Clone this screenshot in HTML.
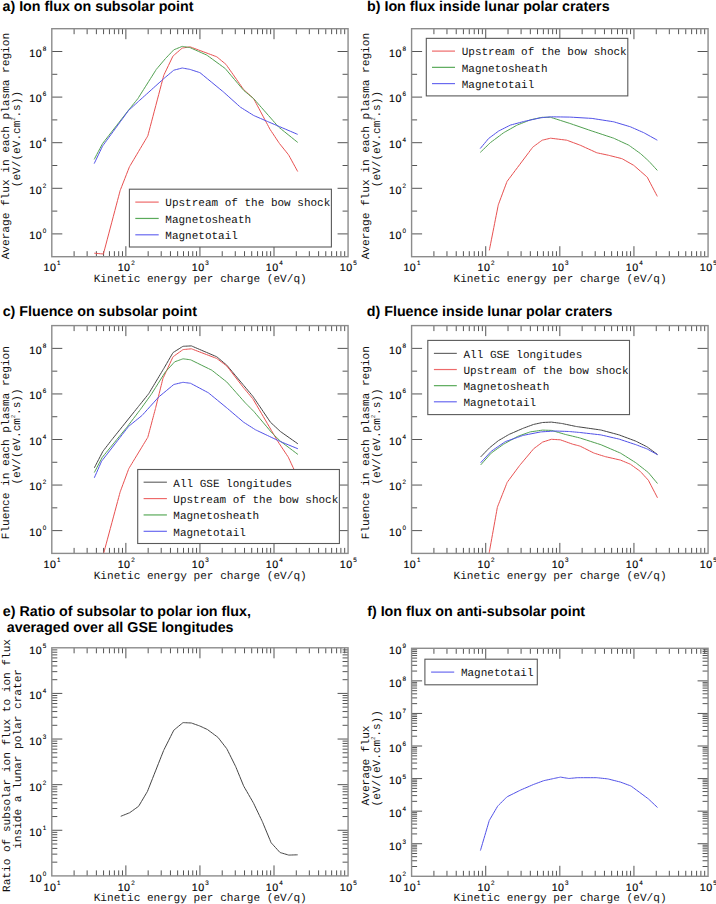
<!DOCTYPE html><html><head><meta charset="utf-8"><style>html,body{margin:0;padding:0;background:#fff}svg{display:block;text-rendering:geometricPrecision}.t{font:bold 14.28px "Liberation Sans",sans-serif;fill:#000}.tl{font:10.7px "Liberation Sans",sans-serif;fill:#000;stroke:#000;stroke-width:0.15px;letter-spacing:0.5px}.sup{font-size:6.3px;letter-spacing:0;stroke-width:0.1px}.m{font:11.1px "Liberation Mono",monospace;fill:#111}.lg{font:11px "Liberation Mono",monospace;fill:#111}.ms{font:5.5px "Liberation Sans",sans-serif;fill:#333}</style></head><body>
<svg width="716" height="904" viewBox="0 0 716 904">
<rect width="716" height="904" fill="#fff"/>
<text class="t" x="2.5" y="10.8">a) Ion flux on subsolar point</text>
<text class="t" x="367" y="10.8">b) Ion flux inside lunar polar craters</text>
<text class="t" x="2.7" y="316.4">c) Fluence on subsolar point</text>
<text class="t" x="366.8" y="316.4">d) Fluence inside lunar polar craters</text>
<text class="t" x="2.8" y="616.0">e) Ratio of subsolar to polar ion flux,</text>
<text class="t" x="2.8" y="631.8" xml:space="preserve"> averaged over all GSE longitudes</text>
<text class="t" x="367.2" y="615.5">f) Ion flux on anti-subsolar point</text>
<path d="M74.10 256.70v-5.5M74.10 28.70v5.5M87.14 256.70v-5.5M87.14 28.70v5.5M96.39 256.70v-5.5M96.39 28.70v5.5M103.57 256.70v-5.5M103.57 28.70v5.5M109.44 256.70v-5.5M109.44 28.70v5.5M114.39 256.70v-5.5M114.39 28.70v5.5M118.69 256.70v-5.5M118.69 28.70v5.5M122.48 256.70v-5.5M122.48 28.70v5.5M125.87 256.70v-10.5M125.87 28.70v10.5M148.16 256.70v-5.5M148.16 28.70v5.5M161.21 256.70v-5.5M161.21 28.70v5.5M170.46 256.70v-5.5M170.46 28.70v5.5M177.64 256.70v-5.5M177.64 28.70v5.5M183.50 256.70v-5.5M183.50 28.70v5.5M188.46 256.70v-5.5M188.46 28.70v5.5M192.76 256.70v-5.5M192.76 28.70v5.5M196.55 256.70v-5.5M196.55 28.70v5.5M199.94 256.70v-10.5M199.94 28.70v10.5M222.23 256.70v-5.5M222.23 28.70v5.5M235.27 256.70v-5.5M235.27 28.70v5.5M244.53 256.70v-5.5M244.53 28.70v5.5M251.71 256.70v-5.5M251.71 28.70v5.5M257.57 256.70v-5.5M257.57 28.70v5.5M262.53 256.70v-5.5M262.53 28.70v5.5M266.82 256.70v-5.5M266.82 28.70v5.5M270.61 256.70v-5.5M270.61 28.70v5.5M274.00 256.70v-10.5M274.00 28.70v10.5M296.30 256.70v-5.5M296.30 28.70v5.5M309.34 256.70v-5.5M309.34 28.70v5.5M318.60 256.70v-5.5M318.60 28.70v5.5M325.77 256.70v-5.5M325.77 28.70v5.5M331.64 256.70v-5.5M331.64 28.70v5.5M336.60 256.70v-5.5M336.60 28.70v5.5M340.89 256.70v-5.5M340.89 28.70v5.5M344.68 256.70v-5.5M344.68 28.70v5.5M51.80 233.90h10.5M348.07 233.90h-10.5M51.80 211.10h5.5M348.07 211.10h-5.5M51.80 188.30h10.5M348.07 188.30h-10.5M51.80 165.50h5.5M348.07 165.50h-5.5M51.80 142.70h10.5M348.07 142.70h-10.5M51.80 119.90h5.5M348.07 119.90h-5.5M51.80 97.10h10.5M348.07 97.10h-10.5M51.80 74.30h5.5M348.07 74.30h-5.5M51.80 51.50h10.5M348.07 51.50h-10.5" stroke="#555555" stroke-width="1" fill="none"/>
<path d="M433.91 256.70v-5.5M433.91 28.70v5.5M446.96 256.70v-5.5M446.96 28.70v5.5M456.22 256.70v-5.5M456.22 28.70v5.5M463.41 256.70v-5.5M463.41 28.70v5.5M469.27 256.70v-5.5M469.27 28.70v5.5M474.24 256.70v-5.5M474.24 28.70v5.5M478.53 256.70v-5.5M478.53 28.70v5.5M482.33 256.70v-5.5M482.33 28.70v5.5M485.72 256.70v-10.5M485.72 28.70v10.5M508.03 256.70v-5.5M508.03 28.70v5.5M521.08 256.70v-5.5M521.08 28.70v5.5M530.34 256.70v-5.5M530.34 28.70v5.5M537.52 256.70v-5.5M537.52 28.70v5.5M543.39 256.70v-5.5M543.39 28.70v5.5M548.35 256.70v-5.5M548.35 28.70v5.5M552.65 256.70v-5.5M552.65 28.70v5.5M556.44 256.70v-5.5M556.44 28.70v5.5M559.84 256.70v-10.5M559.84 28.70v10.5M582.15 256.70v-5.5M582.15 28.70v5.5M595.20 256.70v-5.5M595.20 28.70v5.5M604.46 256.70v-5.5M604.46 28.70v5.5M611.64 256.70v-5.5M611.64 28.70v5.5M617.51 256.70v-5.5M617.51 28.70v5.5M622.47 256.70v-5.5M622.47 28.70v5.5M626.77 256.70v-5.5M626.77 28.70v5.5M630.56 256.70v-5.5M630.56 28.70v5.5M633.95 256.70v-10.5M633.95 28.70v10.5M656.26 256.70v-5.5M656.26 28.70v5.5M669.32 256.70v-5.5M669.32 28.70v5.5M678.58 256.70v-5.5M678.58 28.70v5.5M685.76 256.70v-5.5M685.76 28.70v5.5M691.63 256.70v-5.5M691.63 28.70v5.5M696.59 256.70v-5.5M696.59 28.70v5.5M700.89 256.70v-5.5M700.89 28.70v5.5M704.68 256.70v-5.5M704.68 28.70v5.5M411.60 233.90h10.5M708.07 233.90h-10.5M411.60 211.10h5.5M708.07 211.10h-5.5M411.60 188.30h10.5M708.07 188.30h-10.5M411.60 165.50h5.5M708.07 165.50h-5.5M411.60 142.70h10.5M708.07 142.70h-10.5M411.60 119.90h5.5M708.07 119.90h-5.5M411.60 97.10h10.5M708.07 97.10h-10.5M411.60 74.30h5.5M708.07 74.30h-5.5M411.60 51.50h10.5M708.07 51.50h-10.5" stroke="#555555" stroke-width="1" fill="none"/>
<path d="M74.10 553.40v-5.5M74.10 325.60v5.5M87.14 553.40v-5.5M87.14 325.60v5.5M96.39 553.40v-5.5M96.39 325.60v5.5M103.57 553.40v-5.5M103.57 325.60v5.5M109.44 553.40v-5.5M109.44 325.60v5.5M114.39 553.40v-5.5M114.39 325.60v5.5M118.69 553.40v-5.5M118.69 325.60v5.5M122.48 553.40v-5.5M122.48 325.60v5.5M125.87 553.40v-10.5M125.87 325.60v10.5M148.16 553.40v-5.5M148.16 325.60v5.5M161.21 553.40v-5.5M161.21 325.60v5.5M170.46 553.40v-5.5M170.46 325.60v5.5M177.64 553.40v-5.5M177.64 325.60v5.5M183.50 553.40v-5.5M183.50 325.60v5.5M188.46 553.40v-5.5M188.46 325.60v5.5M192.76 553.40v-5.5M192.76 325.60v5.5M196.55 553.40v-5.5M196.55 325.60v5.5M199.94 553.40v-10.5M199.94 325.60v10.5M222.23 553.40v-5.5M222.23 325.60v5.5M235.27 553.40v-5.5M235.27 325.60v5.5M244.53 553.40v-5.5M244.53 325.60v5.5M251.71 553.40v-5.5M251.71 325.60v5.5M257.57 553.40v-5.5M257.57 325.60v5.5M262.53 553.40v-5.5M262.53 325.60v5.5M266.82 553.40v-5.5M266.82 325.60v5.5M270.61 553.40v-5.5M270.61 325.60v5.5M274.00 553.40v-10.5M274.00 325.60v10.5M296.30 553.40v-5.5M296.30 325.60v5.5M309.34 553.40v-5.5M309.34 325.60v5.5M318.60 553.40v-5.5M318.60 325.60v5.5M325.77 553.40v-5.5M325.77 325.60v5.5M331.64 553.40v-5.5M331.64 325.60v5.5M336.60 553.40v-5.5M336.60 325.60v5.5M340.89 553.40v-5.5M340.89 325.60v5.5M344.68 553.40v-5.5M344.68 325.60v5.5M51.80 530.62h10.5M348.07 530.62h-10.5M51.80 507.84h5.5M348.07 507.84h-5.5M51.80 485.06h10.5M348.07 485.06h-10.5M51.80 462.28h5.5M348.07 462.28h-5.5M51.80 439.50h10.5M348.07 439.50h-10.5M51.80 416.72h5.5M348.07 416.72h-5.5M51.80 393.94h10.5M348.07 393.94h-10.5M51.80 371.16h5.5M348.07 371.16h-5.5M51.80 348.38h10.5M348.07 348.38h-10.5" stroke="#555555" stroke-width="1" fill="none"/>
<path d="M433.91 553.40v-5.5M433.91 325.60v5.5M446.96 553.40v-5.5M446.96 325.60v5.5M456.22 553.40v-5.5M456.22 325.60v5.5M463.41 553.40v-5.5M463.41 325.60v5.5M469.27 553.40v-5.5M469.27 325.60v5.5M474.24 553.40v-5.5M474.24 325.60v5.5M478.53 553.40v-5.5M478.53 325.60v5.5M482.33 553.40v-5.5M482.33 325.60v5.5M485.72 553.40v-10.5M485.72 325.60v10.5M508.03 553.40v-5.5M508.03 325.60v5.5M521.08 553.40v-5.5M521.08 325.60v5.5M530.34 553.40v-5.5M530.34 325.60v5.5M537.52 553.40v-5.5M537.52 325.60v5.5M543.39 553.40v-5.5M543.39 325.60v5.5M548.35 553.40v-5.5M548.35 325.60v5.5M552.65 553.40v-5.5M552.65 325.60v5.5M556.44 553.40v-5.5M556.44 325.60v5.5M559.84 553.40v-10.5M559.84 325.60v10.5M582.15 553.40v-5.5M582.15 325.60v5.5M595.20 553.40v-5.5M595.20 325.60v5.5M604.46 553.40v-5.5M604.46 325.60v5.5M611.64 553.40v-5.5M611.64 325.60v5.5M617.51 553.40v-5.5M617.51 325.60v5.5M622.47 553.40v-5.5M622.47 325.60v5.5M626.77 553.40v-5.5M626.77 325.60v5.5M630.56 553.40v-5.5M630.56 325.60v5.5M633.95 553.40v-10.5M633.95 325.60v10.5M656.26 553.40v-5.5M656.26 325.60v5.5M669.32 553.40v-5.5M669.32 325.60v5.5M678.58 553.40v-5.5M678.58 325.60v5.5M685.76 553.40v-5.5M685.76 325.60v5.5M691.63 553.40v-5.5M691.63 325.60v5.5M696.59 553.40v-5.5M696.59 325.60v5.5M700.89 553.40v-5.5M700.89 325.60v5.5M704.68 553.40v-5.5M704.68 325.60v5.5M411.60 530.62h10.5M708.07 530.62h-10.5M411.60 507.84h5.5M708.07 507.84h-5.5M411.60 485.06h10.5M708.07 485.06h-10.5M411.60 462.28h5.5M708.07 462.28h-5.5M411.60 439.50h10.5M708.07 439.50h-10.5M411.60 416.72h5.5M708.07 416.72h-5.5M411.60 393.94h10.5M708.07 393.94h-10.5M411.60 371.16h5.5M708.07 371.16h-5.5M411.60 348.38h10.5M708.07 348.38h-10.5" stroke="#555555" stroke-width="1" fill="none"/>
<path d="M74.10 875.90v-5.5M74.10 647.80v5.5M87.14 875.90v-5.5M87.14 647.80v5.5M96.39 875.90v-5.5M96.39 647.80v5.5M103.57 875.90v-5.5M103.57 647.80v5.5M109.44 875.90v-5.5M109.44 647.80v5.5M114.39 875.90v-5.5M114.39 647.80v5.5M118.69 875.90v-5.5M118.69 647.80v5.5M122.48 875.90v-5.5M122.48 647.80v5.5M125.87 875.90v-10.5M125.87 647.80v10.5M148.16 875.90v-5.5M148.16 647.80v5.5M161.21 875.90v-5.5M161.21 647.80v5.5M170.46 875.90v-5.5M170.46 647.80v5.5M177.64 875.90v-5.5M177.64 647.80v5.5M183.50 875.90v-5.5M183.50 647.80v5.5M188.46 875.90v-5.5M188.46 647.80v5.5M192.76 875.90v-5.5M192.76 647.80v5.5M196.55 875.90v-5.5M196.55 647.80v5.5M199.94 875.90v-10.5M199.94 647.80v10.5M222.23 875.90v-5.5M222.23 647.80v5.5M235.27 875.90v-5.5M235.27 647.80v5.5M244.53 875.90v-5.5M244.53 647.80v5.5M251.71 875.90v-5.5M251.71 647.80v5.5M257.57 875.90v-5.5M257.57 647.80v5.5M262.53 875.90v-5.5M262.53 647.80v5.5M266.82 875.90v-5.5M266.82 647.80v5.5M270.61 875.90v-5.5M270.61 647.80v5.5M274.00 875.90v-10.5M274.00 647.80v10.5M296.30 875.90v-5.5M296.30 647.80v5.5M309.34 875.90v-5.5M309.34 647.80v5.5M318.60 875.90v-5.5M318.60 647.80v5.5M325.77 875.90v-5.5M325.77 647.80v5.5M331.64 875.90v-5.5M331.64 647.80v5.5M336.60 875.90v-5.5M336.60 647.80v5.5M340.89 875.90v-5.5M340.89 647.80v5.5M344.68 875.90v-5.5M344.68 647.80v5.5M51.80 862.17h5.5M348.07 862.17h-5.5M51.80 854.13h5.5M348.07 854.13h-5.5M51.80 848.43h5.5M348.07 848.43h-5.5M51.80 844.01h5.5M348.07 844.01h-5.5M51.80 840.40h5.5M348.07 840.40h-5.5M51.80 837.35h5.5M348.07 837.35h-5.5M51.80 834.70h5.5M348.07 834.70h-5.5M51.80 832.37h5.5M348.07 832.37h-5.5M51.80 830.28h10.5M348.07 830.28h-10.5M51.80 816.55h5.5M348.07 816.55h-5.5M51.80 808.51h5.5M348.07 808.51h-5.5M51.80 802.81h5.5M348.07 802.81h-5.5M51.80 798.39h5.5M348.07 798.39h-5.5M51.80 794.78h5.5M348.07 794.78h-5.5M51.80 791.73h5.5M348.07 791.73h-5.5M51.80 789.08h5.5M348.07 789.08h-5.5M51.80 786.75h5.5M348.07 786.75h-5.5M51.80 784.66h10.5M348.07 784.66h-10.5M51.80 770.93h5.5M348.07 770.93h-5.5M51.80 762.89h5.5M348.07 762.89h-5.5M51.80 757.19h5.5M348.07 757.19h-5.5M51.80 752.77h5.5M348.07 752.77h-5.5M51.80 749.16h5.5M348.07 749.16h-5.5M51.80 746.11h5.5M348.07 746.11h-5.5M51.80 743.46h5.5M348.07 743.46h-5.5M51.80 741.13h5.5M348.07 741.13h-5.5M51.80 739.04h10.5M348.07 739.04h-10.5M51.80 725.31h5.5M348.07 725.31h-5.5M51.80 717.27h5.5M348.07 717.27h-5.5M51.80 711.57h5.5M348.07 711.57h-5.5M51.80 707.15h5.5M348.07 707.15h-5.5M51.80 703.54h5.5M348.07 703.54h-5.5M51.80 700.49h5.5M348.07 700.49h-5.5M51.80 697.84h5.5M348.07 697.84h-5.5M51.80 695.51h5.5M348.07 695.51h-5.5M51.80 693.42h10.5M348.07 693.42h-10.5M51.80 679.69h5.5M348.07 679.69h-5.5M51.80 671.65h5.5M348.07 671.65h-5.5M51.80 665.95h5.5M348.07 665.95h-5.5M51.80 661.53h5.5M348.07 661.53h-5.5M51.80 657.92h5.5M348.07 657.92h-5.5M51.80 654.87h5.5M348.07 654.87h-5.5M51.80 652.22h5.5M348.07 652.22h-5.5M51.80 649.89h5.5M348.07 649.89h-5.5" stroke="#555555" stroke-width="1" fill="none"/>
<path d="M433.91 876.30v-5.5M433.91 648.30v5.5M446.96 876.30v-5.5M446.96 648.30v5.5M456.22 876.30v-5.5M456.22 648.30v5.5M463.41 876.30v-5.5M463.41 648.30v5.5M469.27 876.30v-5.5M469.27 648.30v5.5M474.24 876.30v-5.5M474.24 648.30v5.5M478.53 876.30v-5.5M478.53 648.30v5.5M482.33 876.30v-5.5M482.33 648.30v5.5M485.72 876.30v-10.5M485.72 648.30v10.5M508.03 876.30v-5.5M508.03 648.30v5.5M521.08 876.30v-5.5M521.08 648.30v5.5M530.34 876.30v-5.5M530.34 648.30v5.5M537.52 876.30v-5.5M537.52 648.30v5.5M543.39 876.30v-5.5M543.39 648.30v5.5M548.35 876.30v-5.5M548.35 648.30v5.5M552.65 876.30v-5.5M552.65 648.30v5.5M556.44 876.30v-5.5M556.44 648.30v5.5M559.84 876.30v-10.5M559.84 648.30v10.5M582.15 876.30v-5.5M582.15 648.30v5.5M595.20 876.30v-5.5M595.20 648.30v5.5M604.46 876.30v-5.5M604.46 648.30v5.5M611.64 876.30v-5.5M611.64 648.30v5.5M617.51 876.30v-5.5M617.51 648.30v5.5M622.47 876.30v-5.5M622.47 648.30v5.5M626.77 876.30v-5.5M626.77 648.30v5.5M630.56 876.30v-5.5M630.56 648.30v5.5M633.95 876.30v-10.5M633.95 648.30v10.5M656.26 876.30v-5.5M656.26 648.30v5.5M669.32 876.30v-5.5M669.32 648.30v5.5M678.58 876.30v-5.5M678.58 648.30v5.5M685.76 876.30v-5.5M685.76 648.30v5.5M691.63 876.30v-5.5M691.63 648.30v5.5M696.59 876.30v-5.5M696.59 648.30v5.5M700.89 876.30v-5.5M700.89 648.30v5.5M704.68 876.30v-5.5M704.68 648.30v5.5M411.60 866.50h5.5M708.07 866.50h-5.5M411.60 860.76h5.5M708.07 860.76h-5.5M411.60 856.69h5.5M708.07 856.69h-5.5M411.60 853.53h5.5M708.07 853.53h-5.5M411.60 850.95h5.5M708.07 850.95h-5.5M411.60 848.77h5.5M708.07 848.77h-5.5M411.60 846.89h5.5M708.07 846.89h-5.5M411.60 845.22h5.5M708.07 845.22h-5.5M411.60 843.73h10.5M708.07 843.73h-10.5M411.60 833.92h5.5M708.07 833.92h-5.5M411.60 828.19h5.5M708.07 828.19h-5.5M411.60 824.12h5.5M708.07 824.12h-5.5M411.60 820.96h5.5M708.07 820.96h-5.5M411.60 818.38h5.5M708.07 818.38h-5.5M411.60 816.20h5.5M708.07 816.20h-5.5M411.60 814.31h5.5M708.07 814.31h-5.5M411.60 812.65h5.5M708.07 812.65h-5.5M411.60 811.16h10.5M708.07 811.16h-10.5M411.60 801.35h5.5M708.07 801.35h-5.5M411.60 795.62h5.5M708.07 795.62h-5.5M411.60 791.55h5.5M708.07 791.55h-5.5M411.60 788.39h5.5M708.07 788.39h-5.5M411.60 785.81h5.5M708.07 785.81h-5.5M411.60 783.63h5.5M708.07 783.63h-5.5M411.60 781.74h5.5M708.07 781.74h-5.5M411.60 780.08h5.5M708.07 780.08h-5.5M411.60 778.59h10.5M708.07 778.59h-10.5M411.60 768.78h5.5M708.07 768.78h-5.5M411.60 763.05h5.5M708.07 763.05h-5.5M411.60 758.98h5.5M708.07 758.98h-5.5M411.60 755.82h5.5M708.07 755.82h-5.5M411.60 753.24h5.5M708.07 753.24h-5.5M411.60 751.06h5.5M708.07 751.06h-5.5M411.60 749.17h5.5M708.07 749.17h-5.5M411.60 747.50h5.5M708.07 747.50h-5.5M411.60 746.01h10.5M708.07 746.01h-10.5M411.60 736.21h5.5M708.07 736.21h-5.5M411.60 730.47h5.5M708.07 730.47h-5.5M411.60 726.40h5.5M708.07 726.40h-5.5M411.60 723.25h5.5M708.07 723.25h-5.5M411.60 720.67h5.5M708.07 720.67h-5.5M411.60 718.49h5.5M708.07 718.49h-5.5M411.60 716.60h5.5M708.07 716.60h-5.5M411.60 714.93h5.5M708.07 714.93h-5.5M411.60 713.44h10.5M708.07 713.44h-10.5M411.60 703.64h5.5M708.07 703.64h-5.5M411.60 697.90h5.5M708.07 697.90h-5.5M411.60 693.83h5.5M708.07 693.83h-5.5M411.60 690.68h5.5M708.07 690.68h-5.5M411.60 688.10h5.5M708.07 688.10h-5.5M411.60 685.92h5.5M708.07 685.92h-5.5M411.60 684.03h5.5M708.07 684.03h-5.5M411.60 682.36h5.5M708.07 682.36h-5.5M411.60 680.87h10.5M708.07 680.87h-10.5M411.60 671.07h5.5M708.07 671.07h-5.5M411.60 665.33h5.5M708.07 665.33h-5.5M411.60 661.26h5.5M708.07 661.26h-5.5M411.60 658.10h5.5M708.07 658.10h-5.5M411.60 655.53h5.5M708.07 655.53h-5.5M411.60 653.35h5.5M708.07 653.35h-5.5M411.60 651.46h5.5M708.07 651.46h-5.5M411.60 649.79h5.5M708.07 649.79h-5.5" stroke="#555555" stroke-width="1" fill="none"/>
<path d="M94.20 253.20 C94.20 253.20 103.40 254.00 103.40 254.00 C103.40 254.00 120.20 190.40 120.20 190.40 C120.20 190.40 129.40 166.90 129.40 166.90 C129.40 166.90 147.80 135.90 147.80 135.90 C147.80 135.90 163.80 75.20 163.80 75.20 C163.80 75.20 173.00 56.00 173.00 56.00 C173.00 56.00 182.20 48.10 182.20 48.10 C182.20 48.10 190.00 46.80 190.00 46.80 C190.00 46.80 216.80 56.80 216.80 56.80 C216.80 56.80 226.00 64.40 226.00 64.40 C226.00 64.40 243.60 89.50 243.60 89.50 C243.60 89.50 253.70 98.70 253.70 98.70 C253.70 98.70 270.00 129.30 270.00 129.30 C270.00 129.30 279.30 143.30 279.30 143.30 C279.30 143.30 288.60 154.90 288.60 154.90 C288.60 154.90 297.70 171.50 297.70 171.50" stroke="#e85050" stroke-width="1.0" fill="none" stroke-linejoin="round"/>
<path d="M94.20 159.40 C94.20 159.40 102.60 143.50 102.60 143.50 C102.60 143.50 130.30 107.90 130.30 107.90 C130.30 107.90 137.80 98.70 137.80 98.70 C137.80 98.70 156.30 69.40 156.30 69.40 C156.30 69.40 165.50 58.50 165.50 58.50 C165.50 58.50 173.80 49.80 173.80 49.80 C173.80 49.80 182.20 46.40 182.20 46.40 C182.20 46.40 190.00 47.60 190.00 47.60 C190.00 47.60 206.80 55.10 206.80 55.10 C206.80 55.10 225.20 68.50 225.20 68.50 C225.20 68.50 243.60 90.30 243.60 90.30 C243.60 90.30 253.70 98.70 253.70 98.70 C253.70 98.70 278.60 127.00 278.60 127.00 C278.60 127.00 297.70 142.40 297.70 142.40" stroke="#50a050" stroke-width="1.0" fill="none" stroke-linejoin="round"/>
<path d="M94.20 163.60 C94.20 163.60 102.60 146.00 102.60 146.00 C102.60 146.00 128.60 110.40 128.60 110.40 C128.60 110.40 138.70 101.20 138.70 101.20 C138.70 101.20 163.80 78.60 163.80 78.60 C163.80 78.60 173.80 70.20 173.80 70.20 C173.80 70.20 182.20 68.00 182.20 68.00 C182.20 68.00 190.00 69.40 190.00 69.40 C190.00 69.40 200.00 72.70 200.00 72.70 C200.00 72.70 223.50 92.00 223.50 92.00 C223.50 92.00 240.30 107.10 240.30 107.10 C240.30 107.10 253.70 115.50 253.70 115.50 C253.70 115.50 267.10 121.30 267.10 121.30 C267.10 121.30 297.70 134.40 297.70 134.40" stroke="#5050e8" stroke-width="1.0" fill="none" stroke-linejoin="round"/>
<path d="M489.30 250.40 C489.30 250.40 498.30 204.80 498.30 204.80 C498.30 204.80 507.00 181.50 507.00 181.50 C507.00 181.50 532.80 147.10 532.80 147.10 C532.80 147.10 542.20 140.20 542.20 140.20 C542.20 140.20 550.60 138.20 550.60 138.20 C550.60 138.20 566.80 140.20 566.80 140.20 C566.80 140.20 580.20 145.20 580.20 145.20 C580.20 145.20 596.90 152.80 596.90 152.80 C596.90 152.80 608.70 155.30 608.70 155.30 C608.70 155.30 622.10 158.70 622.10 158.70 C622.10 158.70 633.80 165.40 633.80 165.40 C633.80 165.40 647.20 177.10 647.20 177.10 C647.20 177.10 657.30 196.40 657.30 196.40" stroke="#e85050" stroke-width="1.0" fill="none" stroke-linejoin="round"/>
<path d="M480.20 152.50 C480.20 152.50 490.30 142.70 490.30 142.70 C490.30 142.70 503.70 132.70 503.70 132.70 C503.70 132.70 517.10 125.10 517.10 125.10 C517.10 125.10 530.50 119.80 530.50 119.80 C530.50 119.80 542.20 117.30 542.20 117.30 C542.20 117.30 550.60 117.30 550.60 117.30 C550.60 117.30 570.10 123.50 570.10 123.50 C570.10 123.50 591.90 131.00 591.90 131.00 C591.90 131.00 613.70 138.20 613.70 138.20 C613.70 138.20 628.80 145.20 628.80 145.20 C628.80 145.20 640.50 153.60 640.50 153.60 C640.50 153.60 648.90 161.20 648.90 161.20 C648.90 161.20 657.30 170.40 657.30 170.40" stroke="#50a050" stroke-width="1.0" fill="none" stroke-linejoin="round"/>
<path d="M480.20 148.60 C480.20 148.60 488.60 138.50 488.60 138.50 C488.60 138.50 498.70 131.00 498.70 131.00 C498.70 131.00 510.40 125.10 510.40 125.10 C510.40 125.10 523.80 121.50 523.80 121.50 C523.80 121.50 540.60 117.80 540.60 117.80 C540.60 117.80 550.60 116.80 550.60 116.80 C550.60 116.80 570.10 117.10 570.10 117.10 C570.10 117.10 591.90 118.40 591.90 118.40 C591.90 118.40 613.70 121.80 613.70 121.80 C613.70 121.80 630.40 126.80 630.40 126.80 C630.40 126.80 643.80 132.70 643.80 132.70 C643.80 132.70 657.30 140.20 657.30 140.20" stroke="#5050e8" stroke-width="1.0" fill="none" stroke-linejoin="round"/>
<path d="M94.30 467.90 C94.30 467.90 102.90 451.30 102.90 451.30 C102.90 451.30 111.60 440.00 111.60 440.00 C111.60 440.00 138.60 406.30 138.60 406.30 C138.60 406.30 148.70 393.70 148.70 393.70 C148.70 393.70 163.80 368.50 163.80 368.50 C163.80 368.50 173.00 352.60 173.00 352.60 C173.00 352.60 183.00 346.30 183.00 346.30 C183.00 346.30 191.40 345.90 191.40 345.90 C191.40 345.90 216.80 356.80 216.80 356.80 C216.80 356.80 226.80 365.20 226.80 365.20 C226.80 365.20 243.60 385.30 243.60 385.30 C243.60 385.30 252.80 396.20 252.80 396.20 C252.80 396.20 270.40 422.20 270.40 422.20 C270.40 422.20 280.40 431.50 280.40 431.50 C280.40 431.50 298.00 443.90 298.00 443.90" stroke="#444444" stroke-width="1.0" fill="none" stroke-linejoin="round"/>
<path d="M103.60 553.50 C103.60 553.50 120.20 491.80 120.20 491.80 C120.20 491.80 128.80 468.60 128.80 468.60 C128.80 468.60 147.80 437.30 147.80 437.30 C147.80 437.30 155.40 408.80 155.40 408.80 C155.40 408.80 162.90 378.60 162.90 378.60 C162.90 378.60 173.00 356.80 173.00 356.80 C173.00 356.80 183.00 349.60 183.00 349.60 C183.00 349.60 191.40 348.80 191.40 348.80 C191.40 348.80 216.80 358.50 216.80 358.50 C216.80 358.50 226.80 366.00 226.80 366.00 C226.80 366.00 243.60 387.80 243.60 387.80 C243.60 387.80 252.80 398.70 252.80 398.70 C252.80 398.70 265.30 420.00 265.30 420.00 C265.30 420.00 277.70 441.20 277.70 441.20 C277.70 441.20 288.30 457.20 288.30 457.20 C288.30 457.20 298.00 478.00 298.00 478.00" stroke="#e85050" stroke-width="1.0" fill="none" stroke-linejoin="round"/>
<path d="M94.30 472.50 C94.30 472.50 102.30 457.30 102.30 457.30 C102.30 457.30 126.90 427.20 126.90 427.20 C126.90 427.20 140.30 409.60 140.30 409.60 C140.30 409.60 151.20 394.50 151.20 394.50 C151.20 394.50 165.40 371.90 165.40 371.90 C165.40 371.90 174.70 361.80 174.70 361.80 C174.70 361.80 183.00 358.80 183.00 358.80 C183.00 358.80 190.60 359.80 190.60 359.80 C190.60 359.80 211.80 370.20 211.80 370.20 C211.80 370.20 226.80 382.00 226.80 382.00 C226.80 382.00 245.30 402.90 245.30 402.90 C245.30 402.90 253.70 411.30 253.70 411.30 C253.70 411.30 272.10 433.10 272.10 433.10 C272.10 433.10 280.40 441.20 280.40 441.20 C280.40 441.20 298.00 454.50 298.00 454.50" stroke="#50a050" stroke-width="1.0" fill="none" stroke-linejoin="round"/>
<path d="M94.30 477.80 C94.30 477.80 101.60 461.20 101.60 461.20 C101.60 461.20 128.60 426.40 128.60 426.40 C128.60 426.40 142.00 415.50 142.00 415.50 C142.00 415.50 158.70 397.00 158.70 397.00 C158.70 397.00 173.80 384.50 173.80 384.50 C173.80 384.50 183.00 382.30 183.00 382.30 C183.00 382.30 190.60 383.30 190.60 383.30 C190.60 383.30 208.40 392.80 208.40 392.80 C208.40 392.80 226.80 407.90 226.80 407.90 C226.80 407.90 243.60 422.20 243.60 422.20 C243.60 422.20 255.30 429.70 255.30 429.70 C255.30 429.70 279.50 441.20 279.50 441.20 C279.50 441.20 298.00 448.80 298.00 448.80" stroke="#5050e8" stroke-width="1.0" fill="none" stroke-linejoin="round"/>
<path d="M480.60 457.00 C480.60 457.00 489.50 447.80 489.50 447.80 C489.50 447.80 498.30 440.70 498.30 440.70 C498.30 440.70 508.90 434.50 508.90 434.50 C508.90 434.50 523.10 428.30 523.10 428.30 C523.10 428.30 533.70 424.40 533.70 424.40 C533.70 424.40 542.60 422.50 542.60 422.50 C542.60 422.50 551.40 422.10 551.40 422.10 C551.40 422.10 562.00 423.50 562.00 423.50 C562.00 423.50 576.20 426.50 576.20 426.50 C576.20 426.50 600.90 430.00 600.90 430.00 C600.90 430.00 619.10 434.90 619.10 434.90 C619.10 434.90 635.90 441.20 635.90 441.20 C635.90 441.20 647.00 446.80 647.00 446.80 C647.00 446.80 657.50 454.50 657.50 454.50" stroke="#444444" stroke-width="1.0" fill="none" stroke-linejoin="round"/>
<path d="M489.10 553.30 C489.10 553.30 497.40 507.10 497.40 507.10 C497.40 507.10 507.20 482.30 507.20 482.30 C507.20 482.30 519.60 465.50 519.60 465.50 C519.60 465.50 533.70 448.70 533.70 448.70 C533.70 448.70 542.60 442.10 542.60 442.10 C542.60 442.10 551.40 439.30 551.40 439.30 C551.40 439.30 560.30 439.80 560.30 439.80 C560.30 439.80 572.70 444.20 572.70 444.20 C572.70 444.20 580.00 446.10 580.00 446.10 C580.00 446.10 594.00 453.10 594.00 453.10 C594.00 453.10 605.10 456.60 605.10 456.60 C605.10 456.60 620.50 460.10 620.50 460.10 C620.50 460.10 630.30 464.20 630.30 464.20 C630.30 464.20 640.10 471.20 640.10 471.20 C640.10 471.20 648.40 480.30 648.40 480.30 C648.40 480.30 657.50 497.80 657.50 497.80" stroke="#e85050" stroke-width="1.0" fill="none" stroke-linejoin="round"/>
<path d="M480.60 465.00 C480.60 465.00 491.20 453.10 491.20 453.10 C491.20 453.10 503.60 444.20 503.60 444.20 C503.60 444.20 517.80 436.30 517.80 436.30 C517.80 436.30 530.20 431.90 530.20 431.90 C530.20 431.90 542.60 430.10 542.60 430.10 C542.60 430.10 551.40 430.40 551.40 430.40 C551.40 430.40 565.60 434.50 565.60 434.50 C565.60 434.50 579.70 437.90 579.70 437.90 C579.70 437.90 600.90 444.70 600.90 444.70 C600.90 444.70 620.50 453.10 620.50 453.10 C620.50 453.10 635.90 462.80 635.90 462.80 C635.90 462.80 648.40 472.60 648.40 472.60 C648.40 472.60 657.50 483.50 657.50 483.50" stroke="#50a050" stroke-width="1.0" fill="none" stroke-linejoin="round"/>
<path d="M480.60 462.80 C480.60 462.80 491.20 451.30 491.20 451.30 C491.20 451.30 505.40 441.60 505.40 441.60 C505.40 441.60 523.10 435.40 523.10 435.40 C523.10 435.40 540.80 431.90 540.80 431.90 C540.80 431.90 555.00 431.00 555.00 431.00 C555.00 431.00 569.10 431.50 569.10 431.50 C569.10 431.50 580.00 432.50 580.00 432.50 C580.00 432.50 600.90 434.90 600.90 434.90 C600.90 434.90 619.10 439.10 619.10 439.10 C619.10 439.10 635.90 444.70 635.90 444.70 C635.90 444.70 647.00 448.90 647.00 448.90 C647.00 448.90 657.50 454.70 657.50 454.70" stroke="#5050e8" stroke-width="1.0" fill="none" stroke-linejoin="round"/>
<path d="M120.75 816.30 C120.75 816.30 129.70 812.70 129.70 812.70 C129.70 812.70 138.60 806.30 138.60 806.30 C138.60 806.30 147.40 791.50 147.40 791.50 C147.40 791.50 163.70 750.30 163.70 750.30 C163.70 750.30 173.80 730.20 173.80 730.20 C173.80 730.20 183.00 722.60 183.00 722.60 C183.00 722.60 191.40 723.00 191.40 723.00 C191.40 723.00 199.80 726.00 199.80 726.00 C199.80 726.00 207.40 729.50 207.40 729.50 C207.40 729.50 218.00 737.40 218.00 737.40 C218.00 737.40 226.90 748.90 226.90 748.90 C226.90 748.90 235.70 766.60 235.70 766.60 C235.70 766.60 243.70 786.10 243.70 786.10 C243.70 786.10 253.40 802.90 253.40 802.90 C253.40 802.90 262.30 821.50 262.30 821.50 C262.30 821.50 271.10 842.70 271.10 842.70 C271.10 842.70 280.00 852.50 280.00 852.50 C280.00 852.50 288.80 855.10 288.80 855.10 C288.80 855.10 297.70 854.80 297.70 854.80" stroke="#444444" stroke-width="1.0" fill="none" stroke-linejoin="round"/>
<path d="M480.40 850.60 C480.40 850.60 489.30 820.40 489.30 820.40 C489.30 820.40 497.70 806.10 497.70 806.10 C497.70 806.10 506.90 796.90 506.90 796.90 C506.90 796.90 520.30 790.20 520.30 790.20 C520.30 790.20 533.70 784.40 533.70 784.40 C533.70 784.40 543.70 780.70 543.70 780.70 C543.70 780.70 553.80 778.50 553.80 778.50 C553.80 778.50 560.50 777.10 560.50 777.10 C560.50 777.10 568.90 778.50 568.90 778.50 C568.90 778.50 577.30 777.70 577.30 777.70 C577.30 777.70 596.80 777.70 596.80 777.70 C596.80 777.70 607.90 778.90 607.90 778.90 C607.90 778.90 620.50 782.10 620.50 782.10 C620.50 782.10 631.00 786.00 631.00 786.00 C631.00 786.00 648.40 798.90 648.40 798.90 C648.40 798.90 657.50 807.50 657.50 807.50" stroke="#5050e8" stroke-width="1.0" fill="none" stroke-linejoin="round"/>
<text x="52.10" y="270.90" class="tl" text-anchor="middle">10<tspan class="sup" dx="0.6" dy="-5.9">1</tspan></text>
<text x="126.17" y="270.90" class="tl" text-anchor="middle">10<tspan class="sup" dx="0.6" dy="-5.9">2</tspan></text>
<text x="200.24" y="270.90" class="tl" text-anchor="middle">10<tspan class="sup" dx="0.6" dy="-5.9">3</tspan></text>
<text x="274.30" y="270.90" class="tl" text-anchor="middle">10<tspan class="sup" dx="0.6" dy="-5.9">4</tspan></text>
<text x="348.37" y="270.90" class="tl" text-anchor="middle">10<tspan class="sup" dx="0.6" dy="-5.9">5</tspan></text>
<text x="46.20" y="239.10" class="tl" text-anchor="end">10<tspan class="sup" dx="0.6" dy="-5.9">0</tspan></text>
<text x="46.20" y="193.50" class="tl" text-anchor="end">10<tspan class="sup" dx="0.6" dy="-5.9">2</tspan></text>
<text x="46.20" y="147.90" class="tl" text-anchor="end">10<tspan class="sup" dx="0.6" dy="-5.9">4</tspan></text>
<text x="46.20" y="102.30" class="tl" text-anchor="end">10<tspan class="sup" dx="0.6" dy="-5.9">6</tspan></text>
<text x="46.20" y="56.70" class="tl" text-anchor="end">10<tspan class="sup" dx="0.6" dy="-5.9">8</tspan></text>
<text class="m" x="93.70" y="281.80">Kinetic energy per charge (eV/q)</text>
<text x="411.90" y="270.90" class="tl" text-anchor="middle">10<tspan class="sup" dx="0.6" dy="-5.9">1</tspan></text>
<text x="486.02" y="270.90" class="tl" text-anchor="middle">10<tspan class="sup" dx="0.6" dy="-5.9">2</tspan></text>
<text x="560.13" y="270.90" class="tl" text-anchor="middle">10<tspan class="sup" dx="0.6" dy="-5.9">3</tspan></text>
<text x="634.25" y="270.90" class="tl" text-anchor="middle">10<tspan class="sup" dx="0.6" dy="-5.9">4</tspan></text>
<text x="708.37" y="270.90" class="tl" text-anchor="middle">10<tspan class="sup" dx="0.6" dy="-5.9">5</tspan></text>
<text x="406.00" y="239.10" class="tl" text-anchor="end">10<tspan class="sup" dx="0.6" dy="-5.9">0</tspan></text>
<text x="406.00" y="193.50" class="tl" text-anchor="end">10<tspan class="sup" dx="0.6" dy="-5.9">2</tspan></text>
<text x="406.00" y="147.90" class="tl" text-anchor="end">10<tspan class="sup" dx="0.6" dy="-5.9">4</tspan></text>
<text x="406.00" y="102.30" class="tl" text-anchor="end">10<tspan class="sup" dx="0.6" dy="-5.9">6</tspan></text>
<text x="406.00" y="56.70" class="tl" text-anchor="end">10<tspan class="sup" dx="0.6" dy="-5.9">8</tspan></text>
<text class="m" x="453.50" y="281.80">Kinetic energy per charge (eV/q)</text>
<text x="52.10" y="568.20" class="tl" text-anchor="middle">10<tspan class="sup" dx="0.6" dy="-5.9">1</tspan></text>
<text x="126.17" y="568.20" class="tl" text-anchor="middle">10<tspan class="sup" dx="0.6" dy="-5.9">2</tspan></text>
<text x="200.24" y="568.20" class="tl" text-anchor="middle">10<tspan class="sup" dx="0.6" dy="-5.9">3</tspan></text>
<text x="274.30" y="568.20" class="tl" text-anchor="middle">10<tspan class="sup" dx="0.6" dy="-5.9">4</tspan></text>
<text x="348.37" y="568.20" class="tl" text-anchor="middle">10<tspan class="sup" dx="0.6" dy="-5.9">5</tspan></text>
<text x="46.20" y="535.82" class="tl" text-anchor="end">10<tspan class="sup" dx="0.6" dy="-5.9">0</tspan></text>
<text x="46.20" y="490.26" class="tl" text-anchor="end">10<tspan class="sup" dx="0.6" dy="-5.9">2</tspan></text>
<text x="46.20" y="444.70" class="tl" text-anchor="end">10<tspan class="sup" dx="0.6" dy="-5.9">4</tspan></text>
<text x="46.20" y="399.14" class="tl" text-anchor="end">10<tspan class="sup" dx="0.6" dy="-5.9">6</tspan></text>
<text x="46.20" y="353.58" class="tl" text-anchor="end">10<tspan class="sup" dx="0.6" dy="-5.9">8</tspan></text>
<text class="m" x="93.70" y="578.70">Kinetic energy per charge (eV/q)</text>
<text x="411.90" y="568.20" class="tl" text-anchor="middle">10<tspan class="sup" dx="0.6" dy="-5.9">1</tspan></text>
<text x="486.02" y="568.20" class="tl" text-anchor="middle">10<tspan class="sup" dx="0.6" dy="-5.9">2</tspan></text>
<text x="560.13" y="568.20" class="tl" text-anchor="middle">10<tspan class="sup" dx="0.6" dy="-5.9">3</tspan></text>
<text x="634.25" y="568.20" class="tl" text-anchor="middle">10<tspan class="sup" dx="0.6" dy="-5.9">4</tspan></text>
<text x="708.37" y="568.20" class="tl" text-anchor="middle">10<tspan class="sup" dx="0.6" dy="-5.9">5</tspan></text>
<text x="406.00" y="535.82" class="tl" text-anchor="end">10<tspan class="sup" dx="0.6" dy="-5.9">0</tspan></text>
<text x="406.00" y="490.26" class="tl" text-anchor="end">10<tspan class="sup" dx="0.6" dy="-5.9">2</tspan></text>
<text x="406.00" y="444.70" class="tl" text-anchor="end">10<tspan class="sup" dx="0.6" dy="-5.9">4</tspan></text>
<text x="406.00" y="399.14" class="tl" text-anchor="end">10<tspan class="sup" dx="0.6" dy="-5.9">6</tspan></text>
<text x="406.00" y="353.58" class="tl" text-anchor="end">10<tspan class="sup" dx="0.6" dy="-5.9">8</tspan></text>
<text class="m" x="453.50" y="578.70">Kinetic energy per charge (eV/q)</text>
<text x="52.10" y="890.50" class="tl" text-anchor="middle">10<tspan class="sup" dx="0.6" dy="-5.9">1</tspan></text>
<text x="126.17" y="890.50" class="tl" text-anchor="middle">10<tspan class="sup" dx="0.6" dy="-5.9">2</tspan></text>
<text x="200.24" y="890.50" class="tl" text-anchor="middle">10<tspan class="sup" dx="0.6" dy="-5.9">3</tspan></text>
<text x="274.30" y="890.50" class="tl" text-anchor="middle">10<tspan class="sup" dx="0.6" dy="-5.9">4</tspan></text>
<text x="348.37" y="890.50" class="tl" text-anchor="middle">10<tspan class="sup" dx="0.6" dy="-5.9">5</tspan></text>
<text x="46.20" y="881.80" class="tl" text-anchor="end">10<tspan class="sup" dx="0.6" dy="-5.9">0</tspan></text>
<text x="46.20" y="836.18" class="tl" text-anchor="end">10<tspan class="sup" dx="0.6" dy="-5.9">1</tspan></text>
<text x="46.20" y="790.56" class="tl" text-anchor="end">10<tspan class="sup" dx="0.6" dy="-5.9">2</tspan></text>
<text x="46.20" y="744.94" class="tl" text-anchor="end">10<tspan class="sup" dx="0.6" dy="-5.9">3</tspan></text>
<text x="46.20" y="699.32" class="tl" text-anchor="end">10<tspan class="sup" dx="0.6" dy="-5.9">4</tspan></text>
<text x="46.20" y="653.70" class="tl" text-anchor="end">10<tspan class="sup" dx="0.6" dy="-5.9">5</tspan></text>
<text class="m" x="93.70" y="900.70">Kinetic energy per charge (eV/q)</text>
<text x="411.90" y="890.50" class="tl" text-anchor="middle">10<tspan class="sup" dx="0.6" dy="-5.9">1</tspan></text>
<text x="486.02" y="890.50" class="tl" text-anchor="middle">10<tspan class="sup" dx="0.6" dy="-5.9">2</tspan></text>
<text x="560.13" y="890.50" class="tl" text-anchor="middle">10<tspan class="sup" dx="0.6" dy="-5.9">3</tspan></text>
<text x="634.25" y="890.50" class="tl" text-anchor="middle">10<tspan class="sup" dx="0.6" dy="-5.9">4</tspan></text>
<text x="708.37" y="890.50" class="tl" text-anchor="middle">10<tspan class="sup" dx="0.6" dy="-5.9">5</tspan></text>
<text x="406.00" y="882.20" class="tl" text-anchor="end">10<tspan class="sup" dx="0.6" dy="-5.9">2</tspan></text>
<text x="406.00" y="849.63" class="tl" text-anchor="end">10<tspan class="sup" dx="0.6" dy="-5.9">3</tspan></text>
<text x="406.00" y="817.06" class="tl" text-anchor="end">10<tspan class="sup" dx="0.6" dy="-5.9">4</tspan></text>
<text x="406.00" y="784.49" class="tl" text-anchor="end">10<tspan class="sup" dx="0.6" dy="-5.9">5</tspan></text>
<text x="406.00" y="751.91" class="tl" text-anchor="end">10<tspan class="sup" dx="0.6" dy="-5.9">6</tspan></text>
<text x="406.00" y="719.34" class="tl" text-anchor="end">10<tspan class="sup" dx="0.6" dy="-5.9">7</tspan></text>
<text x="406.00" y="686.77" class="tl" text-anchor="end">10<tspan class="sup" dx="0.6" dy="-5.9">8</tspan></text>
<text x="406.00" y="654.20" class="tl" text-anchor="end">10<tspan class="sup" dx="0.6" dy="-5.9">9</tspan></text>
<text class="m" x="453.50" y="900.70">Kinetic energy per charge (eV/q)</text>
<text class="m" transform="translate(9.30 259.30) rotate(-90)">Average flux in each plasma region</text>
<text class="m" transform="translate(20.10 187.20) rotate(-90)">(eV/(eV.cm<tspan class="ms" dy="-5.2">2</tspan><tspan dy="5.2">.s))</tspan></text>
<text class="m" transform="translate(9.30 539.20) rotate(-90)">Fluence in each plasma region</text>
<text class="m" transform="translate(20.10 484.60) rotate(-90)">(eV/(eV.cm<tspan class="ms" dy="-5.2">2</tspan><tspan dy="5.2">.s))</tspan></text>
<text class="m" transform="translate(369.30 259.30) rotate(-90)">Average flux in each plasma region</text>
<text class="m" transform="translate(380.10 187.20) rotate(-90)">(eV/(eV.cm<tspan class="ms" dy="-5.2">2</tspan><tspan dy="5.2">.s))</tspan></text>
<text class="m" transform="translate(369.30 539.20) rotate(-90)">Fluence in each plasma region</text>
<text class="m" transform="translate(380.10 484.60) rotate(-90)">(eV/(eV.cm<tspan class="ms" dy="-5.2">2</tspan><tspan dy="5.2">.s))</tspan></text>
<text class="m" transform="translate(9.60 892.00) rotate(-90)">Ratio of subsolar ion flux to ion flux</text>
<text class="m" transform="translate(20.80 848.80) rotate(-90)">inside a lunar polar crater</text>
<text class="m" transform="translate(369.20 805.40) rotate(-90)">Average flux</text>
<text class="m" transform="translate(379.90 806.40) rotate(-90)">(eV/(eV.cm<tspan class="ms" dy="-5.2">2</tspan><tspan dy="5.2">.s))</tspan></text>
<rect x="51.80" y="28.70" width="296.27" height="228.00" stroke="#8c8c8c" stroke-width="1.4" fill="none"/>
<rect x="411.60" y="28.70" width="296.47" height="228.00" stroke="#8c8c8c" stroke-width="1.4" fill="none"/>
<rect x="51.80" y="325.60" width="296.27" height="227.80" stroke="#8c8c8c" stroke-width="1.4" fill="none"/>
<rect x="411.60" y="325.60" width="296.47" height="227.80" stroke="#8c8c8c" stroke-width="1.4" fill="none"/>
<rect x="51.80" y="647.80" width="296.27" height="228.10" stroke="#8c8c8c" stroke-width="1.4" fill="none"/>
<rect x="411.60" y="648.30" width="296.47" height="228.00" stroke="#8c8c8c" stroke-width="1.4" fill="none"/>
<rect x="129.40" y="189.20" width="202.00" height="57.80" fill="#fff" stroke="#5a5a5a" stroke-width="1.1"/>
<path d="M135.30 202.10H158.70" stroke="#ee6a6a" stroke-width="1.2"/>
<text class="lg" x="165.30" y="206.40">Upstream of the bow shock</text>
<path d="M135.30 218.45H158.70" stroke="#5aaa5a" stroke-width="1.2"/>
<text class="lg" x="165.30" y="222.75">Magnetosheath</text>
<path d="M135.30 234.80H158.70" stroke="#6a6af0" stroke-width="1.2"/>
<text class="lg" x="165.30" y="239.10">Magnetotail</text>
<rect x="426.30" y="38.35" width="201.50" height="57.55" fill="#fff" stroke="#5a5a5a" stroke-width="1.1"/>
<path d="M432.00 51.10H455.00" stroke="#ee6a6a" stroke-width="1.2"/>
<text class="lg" x="461.70" y="55.40">Upstream of the bow shock</text>
<path d="M432.00 67.35H455.00" stroke="#5aaa5a" stroke-width="1.2"/>
<text class="lg" x="461.70" y="71.65">Magnetosheath</text>
<path d="M432.00 83.60H455.00" stroke="#6a6af0" stroke-width="1.2"/>
<text class="lg" x="461.70" y="87.90">Magnetotail</text>
<rect x="137.70" y="469.50" width="201.70" height="74.00" fill="#fff" stroke="#5a5a5a" stroke-width="1.1"/>
<path d="M143.60 482.20H166.90" stroke="#6a6a6a" stroke-width="1.2"/>
<text class="lg" x="173.30" y="486.50">All GSE longitudes</text>
<path d="M143.60 498.57H166.90" stroke="#ee6a6a" stroke-width="1.2"/>
<text class="lg" x="173.30" y="502.87">Upstream of the bow shock</text>
<path d="M143.60 514.94H166.90" stroke="#5aaa5a" stroke-width="1.2"/>
<text class="lg" x="173.30" y="519.24">Magnetosheath</text>
<path d="M143.60 531.31H166.90" stroke="#6a6af0" stroke-width="1.2"/>
<text class="lg" x="173.30" y="535.61">Magnetotail</text>
<rect x="427.80" y="340.40" width="201.70" height="74.20" fill="#fff" stroke="#5a5a5a" stroke-width="1.1"/>
<path d="M433.90 353.40H456.80" stroke="#6a6a6a" stroke-width="1.2"/>
<text class="lg" x="463.50" y="357.70">All GSE longitudes</text>
<path d="M433.90 369.53H456.80" stroke="#ee6a6a" stroke-width="1.2"/>
<text class="lg" x="463.50" y="373.83">Upstream of the bow shock</text>
<path d="M433.90 385.66H456.80" stroke="#5aaa5a" stroke-width="1.2"/>
<text class="lg" x="463.50" y="389.96">Magnetosheath</text>
<path d="M433.90 401.79H456.80" stroke="#6a6af0" stroke-width="1.2"/>
<text class="lg" x="463.50" y="406.09">Magnetotail</text>
<rect x="424.90" y="659.20" width="112.40" height="25.60" fill="#fff" stroke="#5a5a5a" stroke-width="1.1"/>
<path d="M431.10 672.10H454.20" stroke="#6a6af0" stroke-width="1.2"/>
<text class="lg" x="460.90" y="676.40">Magnetotail</text>
</svg></body></html>
